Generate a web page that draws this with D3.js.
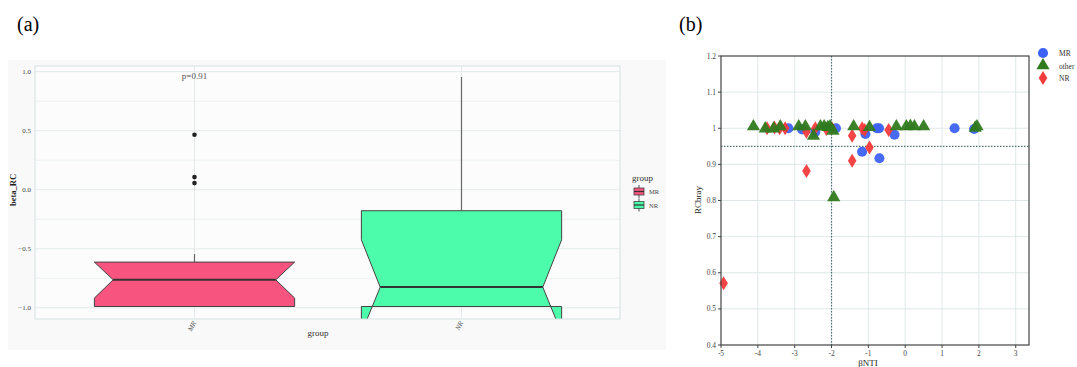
<!DOCTYPE html>
<html lang="en">
<head>
<meta charset="UTF-8">
<title>beta_RC and RCbray</title>
<script src="https://d3js.org/d3.v7.min.js"></script>
<style>
  body { margin: 0; background: #fff; }
  svg { display: block; font-family: "Liberation Serif", "DejaVu Serif", serif; }
</style>
</head>
<body>
<svg id="chart" width="1077" height="367"></svg>
<script>
// ---- panel (a) data: notched boxplot of beta_RC by group
const boxGroups = ["MR", "NR"];
const boxQ1 = [-0.989, -0.989];
const boxMedian = [-0.763, -0.825];
const boxQ3 = [-0.613, -0.178];
const boxWhiskLow = [-0.989, -0.989];
const boxWhiskHigh = [-0.545, 0.955];
const boxNotchLow = [-0.918, -1.215];
const boxNotchHigh = [-0.613, -0.424];
const mrOutliers = [0.466, 0.107, 0.056];
const boxTicks = [-1.0, -0.5, 0.0, 0.5, 1.0];
const boxMinor = [-0.75, -0.25, 0.25, 0.75];
const boxColors = ["#f7557f", "#4cfcab"];

// ---- panel (b) data: RCbray vs betaNTI
const mrPoints = [
  [-3.17, 1.0], [-2.80, 0.997], [-2.44, 0.99], [-1.88, 1.0], [-1.08, 0.984],
  [-1.17, 0.935], [-0.77, 1.0], [-0.71, 1.0], [-0.70, 0.917], [-0.29, 0.982],
  [1.34, 1.0], [1.87, 0.998]
];
const otherPoints = [
  [-4.12, 1.002], [-3.80, 0.996], [-3.57, 0.996], [-3.39, 1.002], [-2.89, 1.002],
  [-2.71, 1.002], [-2.49, 0.976], [-2.30, 1.002], [-2.20, 1.002], [-2.10, 1.0],
  [-2.04, 1.002], [-1.96, 0.99], [-1.94, 0.806], [-1.40, 1.002], [-0.97, 1.0],
  [-0.24, 1.002], [0.03, 1.002], [0.14, 1.003], [0.25, 1.002], [0.50, 1.002],
  [1.90, 0.998], [1.95, 1.002]
];
const nrPoints = [
  [-3.75, 1.0], [-3.55, 1.002], [-3.41, 1.0], [-3.26, 1.0], [-2.68, 0.99],
  [-2.68, 0.882], [-2.44, 1.0], [-2.14, 0.998], [-1.99, 1.0], [-1.44, 0.979],
  [-1.44, 0.91], [-1.17, 1.0], [-1.10, 0.995], [-0.97, 0.947], [-0.45, 0.995],
  [-4.93, 0.571]
];
const xTicksB = [-5, -4, -3, -2, -1, 0, 1, 2, 3];
const yTicksB = [0.4, 0.5, 0.6, 0.7, 0.8, 0.9, 1.0, 1.1, 1.2];
const legendB = ["MR", "other", "NR"];
const colorsB = ["#3d62f7", "#2f7a1f", "#f23b3b"];

const svg = d3.select("#chart");

// panel labels
svg.append("text").attr("x", 17).attr("y", 31).attr("font-size", 20).text("(a)");
svg.append("text").attr("x", 679).attr("y", 31).attr("font-size", 20).text("(b)");

// ================= panel (a) =================
const pa = { left: 35, right: 620, top: 66, bottom: 319 };
svg.append("rect").attr("x", 8).attr("y", 60).attr("width", 658).attr("height", 290)
  .attr("fill", "#f9f9f9");
svg.append("rect").attr("x", pa.left).attr("y", pa.top)
  .attr("width", pa.right - pa.left).attr("height", pa.bottom - pa.top)
  .attr("fill", "#fcfcfc");

const ya = d3.scaleLinear().domain([-1.095, 1.048]).range([pa.bottom, pa.top]);
const xa = d3.scaleLinear().domain([1, 2]).range([194.5, 461.5]);
const boxW = (xa(2) - xa(1)) * 0.75;

const ga = svg.append("g");
ga.selectAll(".minor").data(boxMinor).join("line")
  .attr("x1", pa.left).attr("x2", pa.right)
  .attr("y1", d => ya(d)).attr("y2", d => ya(d))
  .attr("stroke", "#edf1f1").attr("stroke-width", 1);
ga.selectAll(".major").data(boxTicks).join("line")
  .attr("x1", pa.left).attr("x2", pa.right)
  .attr("y1", d => ya(d)).attr("y2", d => ya(d))
  .attr("stroke", "#e3eaea").attr("stroke-width", 1);
ga.selectAll(".vgrid").data(boxGroups).join("line")
  .attr("x1", (d, i) => xa(i + 1)).attr("x2", (d, i) => xa(i + 1))
  .attr("y1", pa.top).attr("y2", pa.bottom)
  .attr("stroke", "#e3eaea");

svg.append("clipPath").attr("id", "clipA").append("rect")
  .attr("x", pa.left).attr("y", pa.top)
  .attr("width", pa.right - pa.left).attr("height", pa.bottom - pa.top);

const boxes = ga.append("g").attr("clip-path", "url(#clipA)");
boxGroups.forEach((g, i) => {
  const cx = xa(i + 1), x0 = cx - boxW / 2, x1 = cx + boxW / 2, ind = boxW * 0.094;
  // whiskers
  boxes.append("line").attr("x1", cx).attr("x2", cx)
    .attr("y1", ya(boxQ3[i])).attr("y2", ya(boxWhiskHigh[i]))
    .attr("stroke", "#666").attr("stroke-width", 1.2);
  boxes.append("line").attr("x1", cx).attr("x2", cx)
    .attr("y1", ya(boxQ1[i])).attr("y2", ya(boxWhiskLow[i]))
    .attr("stroke", "#666").attr("stroke-width", 1.2);
  const pts = [
    [x0, ya(boxQ3[i])], [x0, ya(boxNotchHigh[i])], [x0 + ind, ya(boxMedian[i])],
    [x0, ya(boxNotchLow[i])], [x0, ya(boxQ1[i])], [x1, ya(boxQ1[i])],
    [x1, ya(boxNotchLow[i])], [x1 - ind, ya(boxMedian[i])], [x1, ya(boxNotchHigh[i])],
    [x1, ya(boxQ3[i])]
  ];
  boxes.append("polygon").attr("points", pts.map(p => p.join(",")).join(" "))
    .attr("fill", boxColors[i]).attr("stroke", "#444").attr("stroke-width", 1);
  boxes.append("line").attr("x1", x0 + ind).attr("x2", x1 - ind)
    .attr("y1", ya(boxMedian[i])).attr("y2", ya(boxMedian[i]))
    .attr("stroke", "#333").attr("stroke-width", 2);
});
boxes.selectAll(".out").data(mrOutliers).join("circle")
  .attr("cx", xa(1)).attr("cy", d => ya(d)).attr("r", 2.3).attr("fill", "#222");

// frame
svg.append("rect").attr("x", pa.left).attr("y", pa.top)
  .attr("width", pa.right - pa.left).attr("height", pa.bottom - pa.top)
  .attr("fill", "none").attr("stroke", "#d6e2e2").attr("stroke-width", 1);

// axes (a)
ga.selectAll(".ytick").data(boxTicks).join("text")
  .attr("x", pa.left - 4).attr("y", d => ya(d) + 2.5)
  .attr("text-anchor", "end").attr("font-size", 7).attr("fill", "#444")
  .text(d => d3.format(".1f")(d));
ga.selectAll(".xtick").data(boxGroups).join("text")
  .attr("transform", (d, i) => `translate(${xa(i + 1) + 2},${pa.bottom + 4}) rotate(-60)`)
  .attr("text-anchor", "end").attr("font-size", 7).attr("font-style", "italic")
  .attr("fill", "#555").text(d => d);
svg.append("text").attr("x", 318).attr("y", 336).attr("text-anchor", "middle")
  .attr("font-size", 9).attr("fill", "#333").text("group");
svg.append("text").attr("transform", "translate(16,190) rotate(-90)")
  .attr("text-anchor", "middle").attr("font-size", 8.5).attr("font-weight", "bold")
  .attr("fill", "#222").text("beta_RC");
svg.append("text").attr("x", xa(1)).attr("y", 79).attr("text-anchor", "middle")
  .attr("font-size", 9).attr("fill", "#555").text("p=0.91");

// legend (a)
svg.append("text").attr("x", 632).attr("y", 181).attr("font-size", 9)
  .attr("fill", "#333").text("group");
boxGroups.forEach((g, i) => {
  const ky = 186 + i * 13.5;
  svg.append("line").attr("x1", 639).attr("x2", 639).attr("y1", ky - 1).attr("y2", ky + 12)
    .attr("stroke", "#555");
  svg.append("rect").attr("x", 634).attr("y", ky + 2).attr("width", 10).attr("height", 7)
    .attr("fill", boxColors[i]).attr("stroke", "#444").attr("stroke-width", 0.8);
  svg.append("line").attr("x1", 634).attr("x2", 644).attr("y1", ky + 5.5).attr("y2", ky + 5.5)
    .attr("stroke", "#333").attr("stroke-width", 1.2);
  svg.append("text").attr("x", 649).attr("y", ky + 8).attr("font-size", 6.5)
    .attr("fill", "#444").text(g);
});

// ================= panel (b) =================
const pb = { left: 721, right: 1029, top: 56, bottom: 345 };
const xb = d3.scaleLinear().domain([-5, 3.36]).range([pb.left, pb.right]);
const yb = d3.scaleLinear().domain([0.4, 1.2]).range([pb.bottom, pb.top]);
const gb = svg.append("g");

gb.selectAll(".vg").data(xTicksB.slice(1)).join("line")
  .attr("x1", d => xb(d)).attr("x2", d => xb(d)).attr("y1", pb.top).attr("y2", pb.bottom)
  .attr("stroke", "#dfe8e8");
gb.selectAll(".hg").data(yTicksB.slice(1, -1)).join("line")
  .attr("x1", pb.left).attr("x2", pb.right).attr("y1", d => yb(d)).attr("y2", d => yb(d))
  .attr("stroke", "#dfe8e8");

// reference lines
gb.append("line").attr("x1", xb(-2)).attr("x2", xb(-2)).attr("y1", pb.top).attr("y2", pb.bottom)
  .attr("stroke", "#4f7272").attr("stroke-width", 1.2).attr("stroke-dasharray", "1.5,1.5");
gb.append("line").attr("x1", pb.left).attr("x2", pb.right).attr("y1", yb(0.95)).attr("y2", yb(0.95))
  .attr("stroke", "#4f7272").attr("stroke-width", 1.2).attr("stroke-dasharray", "1.5,1.5");

const symCircle = d3.symbol().type(d3.symbolCircle).size(80);
const symTri = d3.symbol().type(d3.symbolTriangle).size(75);
const diamondPath = "M0,-7L4.3,0L0,7L-4.3,0Z";

gb.selectAll(".mr").data(mrPoints).join("path")
  .attr("transform", d => `translate(${xb(d[0])},${yb(d[1])})`)
  .attr("d", symCircle).attr("fill", colorsB[0]).attr("fill-opacity", 0.95);
gb.selectAll(".nr").data(nrPoints).join("path")
  .attr("transform", d => `translate(${xb(d[0])},${yb(d[1])})`)
  .attr("d", diamondPath).attr("fill", colorsB[2]).attr("fill-opacity", 0.95);
gb.selectAll(".oth").data(otherPoints).join("path")
  .attr("transform", d => `translate(${xb(d[0])},${yb(d[1]) - 1})`)
  .attr("d", symTri).attr("fill", colorsB[1]).attr("fill-opacity", 0.95);

// frame and ticks
gb.append("rect").attr("x", pb.left).attr("y", pb.top)
  .attr("width", pb.right - pb.left).attr("height", pb.bottom - pb.top)
  .attr("fill", "none").attr("stroke", "#444").attr("stroke-width", 1.2);
gb.selectAll(".xt").data(xTicksB).join("line")
  .attr("x1", d => xb(d)).attr("x2", d => xb(d)).attr("y1", pb.bottom).attr("y2", pb.bottom + 3)
  .attr("stroke", "#444");
gb.selectAll(".xtl").data(xTicksB).join("text")
  .attr("x", d => xb(d)).attr("y", pb.bottom + 11).attr("text-anchor", "middle")
  .attr("font-size", 7.5).attr("fill", "#444").text(d => d);
gb.selectAll(".yt").data(yTicksB).join("line")
  .attr("x1", pb.left - 3).attr("x2", pb.left).attr("y1", d => yb(d)).attr("y2", d => yb(d))
  .attr("stroke", "#444");
gb.selectAll(".ytl").data(yTicksB).join("text")
  .attr("x", pb.left - 5).attr("y", d => yb(d) + 2.5).attr("text-anchor", "end")
  .attr("font-size", 7.5).attr("fill", "#444").text(d => d3.format("~g")(d));

svg.append("text").attr("transform", "translate(701,200) rotate(-90)")
  .attr("text-anchor", "middle").attr("font-size", 9).attr("fill", "#222").text("RCbray");
svg.append("text").attr("x", 868).attr("y", 366).attr("text-anchor", "middle")
  .attr("font-size", 9).attr("fill", "#222").text("βNTI");

// legend (b)
const legSyms = [symCircle, symTri, diamondPath];
legendB.forEach((name, i) => {
  const ly = 53 + i * 12.5;
  svg.append("path").attr("transform", `translate(1043,${ly})`)
    .attr("d", legSyms[i]).attr("fill", colorsB[i]);
  svg.append("text").attr("x", 1059).attr("y", ly + 3).attr("font-size", 7.5)
    .attr("fill", "#333").text(name);
});
</script>
</body>
</html>
